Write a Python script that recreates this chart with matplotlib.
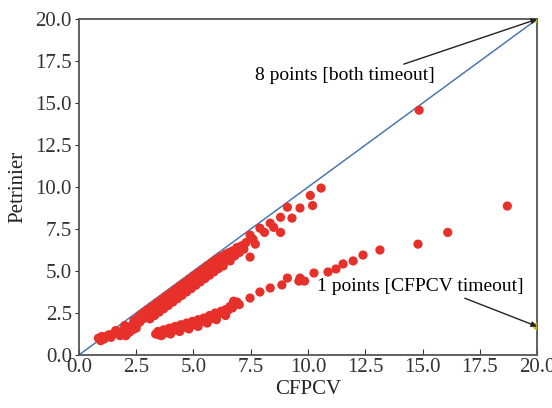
import numpy as np
import matplotlib
matplotlib.use('Agg')
import matplotlib.pyplot as plt

# upper band (close to the diagonal)
upper_x = [0.85, 0.95, 1.0, 1.1, 1.2, 1.3, 1.4, 1.5, 1.6, 1.7, 1.8, 1.9, 2.0, 2.0, 2.05, 2.15, 2.2,
           2.3, 2.35, 2.4, 2.45, 2.5, 2.6, 2.65, 2.7, 2.8, 2.85, 2.9, 3.0, 3.05, 3.1, 3.2, 3.25, 3.3,
           3.4, 3.45, 3.5, 3.6, 3.65, 3.7, 3.8, 3.85, 3.9, 4.0, 4.05, 4.1, 4.2, 4.25, 4.3, 4.4, 4.45,
           4.5, 4.6, 4.65, 4.7, 4.8, 4.85, 4.9, 5.0, 5.05, 5.1, 5.2, 5.25, 5.3, 5.4, 5.45, 5.5, 5.6,
           5.65, 5.7, 5.8, 5.85, 5.9, 6.0, 6.05, 6.1, 6.2, 6.25, 6.3, 6.4, 6.5, 6.55, 6.6, 6.7, 6.8,
           6.9, 7.0, 7.1, 7.2, 7.3, 7.47, 7.47, 7.6, 7.7, 7.9, 8.1, 8.35, 8.5, 8.8, 8.8, 9.1, 9.3,
           9.65, 10.1, 10.2, 10.57, 14.85]
upper_y = [1.0, 0.85, 1.1, 0.95, 1.1, 1.2, 1.05, 1.25, 1.45, 1.35, 1.15, 1.45, 1.75, 1.3, 1.15, 1.6,
           1.35, 1.75, 1.5, 2.05, 1.9, 1.6, 2.25, 1.95, 2.4, 2.15, 2.55, 2.3, 2.7, 2.45, 2.15, 2.9,
           2.65, 2.35, 3.1, 2.85, 2.55, 3.3, 3.05, 2.75, 3.5, 3.25, 2.95, 3.7, 3.45, 3.15, 3.9, 3.65,
           3.35, 4.1, 3.85, 3.55, 4.3, 4.05, 3.75, 4.5, 4.25, 3.95, 4.7, 4.45, 4.15, 4.9, 4.65, 4.35,
           5.1, 4.85, 4.55, 5.3, 5.05, 4.75, 5.5, 5.25, 4.95, 5.7, 5.45, 5.15, 5.85, 5.6, 5.3, 6.0,
           5.7, 6.1, 5.6, 6.2, 5.9, 6.4, 6.1, 6.5, 6.3, 6.7, 7.14, 5.83, 6.9, 6.6, 7.55, 7.3, 7.85,
           7.6, 8.2, 7.3, 8.8, 8.15, 8.75, 9.5, 8.9, 9.94, 14.58]

# lower band
lower_x = [3.35, 3.45, 3.5, 3.6, 3.6, 3.7, 3.75, 3.85, 3.95, 4.0, 4.0, 4.1, 4.2, 4.25, 4.35, 4.4,
           4.45, 4.5, 4.6, 4.7, 4.75, 4.8, 4.85, 4.95, 5.0, 5.1, 5.2, 5.2, 5.25, 5.35, 5.45, 5.5,
           5.6, 5.6, 5.7, 5.75, 5.85, 5.95, 6.0, 6.0, 6.1, 6.2, 6.3, 6.4, 6.4, 6.5, 6.6, 6.7, 6.75,
           6.9, 7.0, 7.47, 7.9, 8.35, 8.86, 9.1, 9.6, 9.65, 9.85, 10.26, 10.87, 11.22, 11.53, 11.97,
           12.4, 13.14, 14.8, 16.1, 18.7]
lower_y = [1.25, 1.4, 1.2, 1.35, 1.15, 1.5, 1.3, 1.45, 1.6, 1.4, 1.25, 1.55, 1.7, 1.5, 1.65, 1.4,
           1.8, 1.6, 1.75, 1.9, 1.7, 1.55, 1.85, 2.0, 1.8, 1.95, 2.1, 1.7, 1.9, 2.05, 2.2, 2.0,
           2.2, 1.9, 2.35, 2.15, 2.3, 2.5, 2.3, 2.1, 2.45, 2.6, 2.5, 2.7, 2.35, 2.65, 2.9, 2.8, 3.2,
           3.15, 3.0, 3.39, 3.75, 3.99, 4.17, 4.58, 4.4, 4.58, 4.4, 4.88, 4.94, 5.12, 5.42, 5.6,
           5.95, 6.25, 6.6, 7.3, 8.87]

# timeout points
timeout_x = [20.0, 20.0]
timeout_y = [20.0, 1.7]

limit = 20.0
ticks = [0.0, 2.5, 5.0, 7.5, 10.0, 12.5, 15.0, 17.5, 20.0]

plt.rcParams['font.family'] = ['Liberation Serif', 'DejaVu Serif']

fig = plt.figure(figsize=(5.52, 4.08), dpi=100)
ax = fig.add_axes([0.143, 0.130, 0.830, 0.823])

ax.plot([0, limit], [0, limit], color='#4a78b0', linewidth=1.1, zorder=1)
ax.scatter(upper_x + lower_x, upper_y + lower_y, s=44, color='#e8302a', edgecolors='none', zorder=2)
ax.scatter(timeout_x, timeout_y, s=30, color='#c8b820', edgecolors='none', zorder=3)

ax.annotate('8 points [both timeout]', xy=(timeout_x[0], timeout_y[0]), xytext=(7.7, 16.65),
            fontsize=14, va='center', ha='left',
            arrowprops=dict(arrowstyle='-|>', color='#222222', lw=1.0, shrinkA=0, shrinkB=0,
                            mutation_scale=8, relpos=(0.78, 1.0)))
ax.annotate('1 points [CFPCV timeout]', xy=(timeout_x[1], timeout_y[1]), xytext=(10.4, 4.05),
            fontsize=14, va='center', ha='left',
            arrowprops=dict(arrowstyle='-|>', color='#222222', lw=1.0, shrinkA=0, shrinkB=0,
                            mutation_scale=8, relpos=(0.68, 0.0)))

ax.set_xlim(0, limit)
ax.set_ylim(0, limit)
ax.set_xticks(ticks)
ax.set_yticks(ticks)
ax.set_xticklabels([f'{t:.1f}' for t in ticks])
ax.set_yticklabels([f'{t:.1f}' for t in ticks])
ax.tick_params(axis='x', direction='in', length=4, labelsize=15, colors='#333333', pad=2)
ax.tick_params(axis='y', direction='out', length=3, labelsize=15, colors='#333333', pad=2)
ax.set_xlabel('CFPCV', fontsize=15, color='#222222', labelpad=2)
ax.set_ylabel('Petrinier', fontsize=15, color='#222222', labelpad=6)
for sp in ax.spines.values():
    sp.set_color('#555555')
    sp.set_linewidth(1.3)

fig.savefig('out.png', dpi=100)
